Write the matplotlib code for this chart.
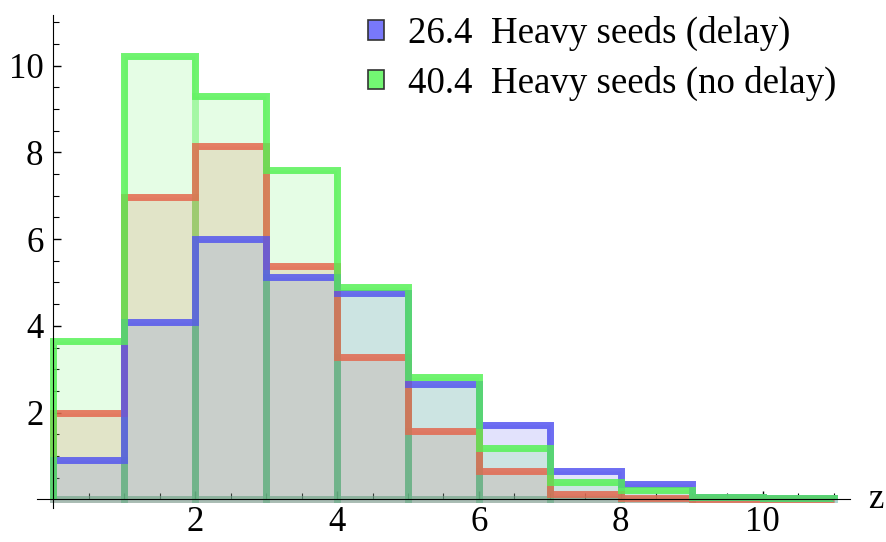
import matplotlib
matplotlib.use("Agg")
import matplotlib.pyplot as plt
import numpy as np
from matplotlib.patches import Patch
from matplotlib.ticker import MultipleLocator

# bin edges and heights per bin (11 bins of width 1)
bin_edges = np.arange(0, 12)
heavy_delay = [0.91, 4.08, 6.0, 5.13, 4.76, 2.66, 1.71, 0.65, 0.35, 0.06, 0.03]
heavy_nodelay = [3.66, 10.22, 9.3, 7.6, 4.9, 2.83, 1.19, 0.39, 0.21, 0.05, 0.02]
third_series = [2.0, 6.98, 8.14, 5.37, 3.29, 1.58, 0.65, 0.13, 0.02, 0.0, 0.0]

labels = ["26.4  Heavy seeds (delay)", "40.4  Heavy seeds (no delay)"]

blue = (0.33, 0.33, 0.94)
green = (0.33, 0.95, 0.33)
red = (0.9, 0.4, 0.3)

plt.rcParams['font.family'] = ['Liberation Serif', 'DejaVu Serif']

fig = plt.figure(figsize=(8.87, 5.42), dpi=100)
ax = fig.add_axes([0.0417, 0.0627, 0.9166, 0.91])

series = [(third_series, red, 0.19, 0.3),
          (heavy_delay, blue, 0.17, 0.3),
          (heavy_nodelay, green, 0.15, 0.25)]

# translucent bars with faint edges, then a stronger outline per series
for vals, col, face_a, edge_a in series:
    ax.bar(bin_edges[:-1], vals, width=1.0, align='edge',
           facecolor=col + (face_a,), edgecolor=col + (edge_a,),
           linewidth=5, zorder=2)
for vals, col, _, _ in series:
    ax.stairs(vals, bin_edges, baseline=0, color=col, alpha=0.78,
              linewidth=5, zorder=3)

ax.set_xlim(-0.23, 11.23)
ax.set_ylim(-0.2, 11.17)

ax.spines['left'].set_position(('data', 0))
ax.spines['bottom'].set_position(('data', 0))
ax.spines['top'].set_visible(False)
ax.spines['right'].set_visible(False)
ax.spines['left'].set_zorder(5)
ax.spines['bottom'].set_zorder(5)

ax.xaxis.set_minor_locator(MultipleLocator(0.5))
ax.yaxis.set_minor_locator(MultipleLocator(0.5))
ax.set_xticks([2, 4, 6, 8, 10])
ax.set_yticks([2, 4, 6, 8, 10])
ax.tick_params(which='major', direction='in', length=6, width=1, labelsize=25, pad=5)
ax.tick_params(which='minor', direction='in', length=4, width=0.8)
ax.tick_params(axis='y', pad=7)

ax.text(11.48, 0, 'z', fontsize=25, va='center', ha='left', clip_on=False)

handles = [Patch(facecolor=(0.47, 0.47, 0.98), edgecolor='#333333', linewidth=1.2),
           Patch(facecolor=(0.45, 0.97, 0.45), edgecolor='#333333', linewidth=1.2)]
ax.legend(handles, labels, loc='upper right', bbox_to_anchor=(1.01, 1.042),
          frameon=False, fontsize=26.6, handlelength=0.42, handleheight=0.42,
          handletextpad=0.65, labelspacing=0.38, borderaxespad=0.2)

fig.savefig('out.png', dpi=100)
